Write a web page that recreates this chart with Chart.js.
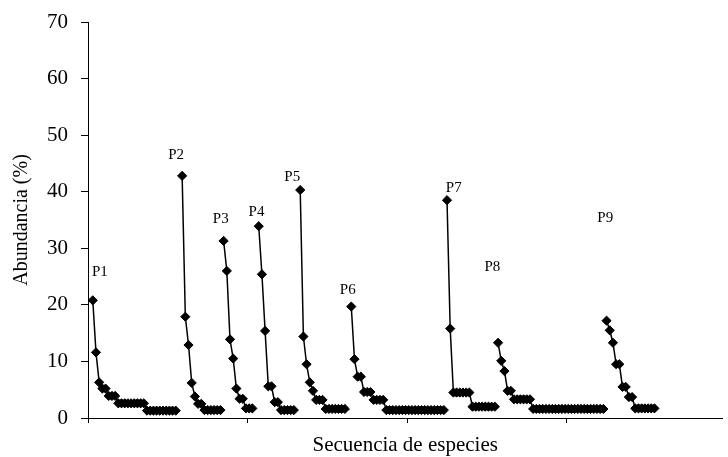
<!DOCTYPE html>
<html>
<head>
<meta charset="utf-8">
<script src="https://cdn.jsdelivr.net/npm/chart.js@4/dist/chart.umd.min.js"></script>
<style>
  html, body { margin: 0; padding: 0; background: #fff; overflow: hidden; }
  #wrap { width: 728px; height: 457px; }
</style>
</head>
<body>
<div id="wrap"><canvas id="chart" width="728" height="457"></canvas></div>
<script>
// plot names and the position in the species sequence where each plot starts
var plotNames = ['P1', 'P2', 'P3', 'P4', 'P5', 'P6', 'P7', 'P8', 'P9'];
var plotStart = [1, 29, 42, 53, 66, 82, 112, 128, 162];

// abundance (%) of each species, ranked, per plot
var p1 = [20.8, 11.6, 6.3, 5.2, 5.2, 3.9, 3.9, 3.9, 2.6, 2.6, 2.6, 2.6, 2.6, 2.6, 2.6, 2.6, 2.6, 1.3, 1.3, 1.3, 1.3, 1.3, 1.3, 1.3, 1.3, 1.3, 1.3];
var p2 = [42.8, 17.9, 12.9, 6.2, 3.8, 2.5, 2.5, 1.4, 1.4, 1.4, 1.4, 1.4, 1.4];
var p3 = [31.3, 26.0, 13.9, 10.5, 5.2, 3.4, 3.4, 1.7, 1.7, 1.7];
var p4 = [33.9, 25.4, 15.4, 5.6, 5.6, 2.8, 2.8, 1.4, 1.4, 1.4, 1.4, 1.4];
var p5 = [40.3, 14.4, 9.5, 6.3, 4.8, 3.2, 3.2, 3.2, 1.6, 1.6, 1.6, 1.6, 1.6, 1.6, 1.6];
var p6 = [19.7, 10.4, 7.3, 7.3, 4.6, 4.6, 4.6, 3.2, 3.2, 3.2, 3.2, 1.4, 1.4, 1.4, 1.4, 1.4, 1.4, 1.4, 1.4, 1.4, 1.4, 1.4, 1.4, 1.4, 1.4, 1.4, 1.4, 1.4, 1.4, 1.4];
var p7 = [38.5, 15.8, 4.5, 4.5, 4.5, 4.5, 4.5, 4.5, 2.0, 2.0, 2.0, 2.0, 2.0, 2.0, 2.0, 2.0];
var p8 = [13.3, 10.1, 8.3, 4.8, 4.8, 3.3, 3.3, 3.3, 3.3, 3.3, 3.3, 1.6, 1.6, 1.6, 1.6, 1.6, 1.6, 1.6, 1.6, 1.6, 1.6, 1.6, 1.6, 1.6, 1.6, 1.6, 1.6, 1.6, 1.6, 1.6, 1.6, 1.6, 1.6, 1.6];
var p9 = [17.2, 15.5, 13.3, 9.5, 9.5, 5.5, 5.5, 3.7, 3.7, 1.7, 1.7, 1.7, 1.7, 1.7, 1.7, 1.7];
var plots = [p1, p2, p3, p4, p5, p6, p7, p8, p9];

// where the plot names are written (sequence position, abundance)
var labelSeq = [3.7, 27.6, 41.6, 52.8, 64.0, 81.4, 114.6, 126.7, 162.1];
var labelVal = [25.8, 46.5, 35.2, 36.4, 42.6, 22.6, 40.6, 26.7, 35.4];

var yTicks = [0, 10, 20, 30, 40, 50, 60, 70];
var xTicks = [0, 50, 100, 150];

var serif = "'Liberation Serif', 'Times New Roman', serif";

var datasets = [];
var $each = function(arr, fn) { for (var i = 0; i < arr.length; i++) fn(i, arr[i]); };
$each(plots, function(i, vals) {
  var pts = [];
  $each(vals, function(j, v) {
    pts.push({ x: plotStart[i] + j + 0.5, y: v });
  });
  datasets.push({
    label: plotNames[i],
    data: pts,
    borderColor: '#000',
    backgroundColor: '#000',
    borderWidth: 1.5,
    pointStyle: 'rectRot',
    pointRadius: 4.6,
    pointBorderWidth: 1,
    pointBackgroundColor: '#000',
    pointBorderColor: '#000',
    tension: 0
  });
});

var plotLabels = {
  id: 'plotLabels',
  afterDatasetsDraw: function(chart) {
    var ctx = chart.ctx;
    var xs = chart.scales.x, ys = chart.scales.y;
    ctx.save();
    ctx.fillStyle = '#000';
    ctx.font = '15px ' + serif;
    ctx.textAlign = 'center';
    ctx.textBaseline = 'middle';
    $each(plotNames, function(i, name) {
      ctx.fillText(name, xs.getPixelForValue(labelSeq[i]), ys.getPixelForValue(labelVal[i]));
    });
    ctx.restore();
  }
};

new Chart(document.getElementById('chart'), {
  type: 'line',
  data: { datasets: datasets },
  plugins: [plotLabels],
  options: {
    responsive: false,
    animation: false,
    layout: { padding: { top: 22, right: 0, left: 0, bottom: 0 } },
    plugins: { legend: { display: false }, tooltip: { enabled: false } },
    scales: {
      x: {
        type: 'linear',
        min: 0,
        max: 198.8,
        afterBuildTicks: function(scale) {
          scale.ticks = xTicks.map(function(v) { return { value: v }; });
        },
        afterFit: function(scale) { scale.height = 39; },
        ticks: { callback: function() { return ''; }, padding: 0 },
        grid: { drawOnChartArea: false, drawTicks: true, tickLength: 5, color: '#000', lineWidth: 1 },
        border: { color: '#000', width: 1 },
        title: {
          display: true,
          text: 'Secuencia de especies',
          color: '#000',
          font: { family: serif, size: 21, lineHeight: 1.1 },
          padding: { top: 0, bottom: 0 }
        }
      },
      y: {
        min: 0,
        max: 70,
        afterBuildTicks: function(scale) {
          scale.ticks = yTicks.map(function(v) { return { value: v }; });
        },
        afterFit: function(scale) { scale.width = 88; },
        ticks: { color: '#000', font: { family: serif, size: 21, lineHeight: 0.8 }, padding: 13 },
        grid: { drawOnChartArea: false, drawTicks: true, tickLength: 7, color: '#000', lineWidth: 1 },
        border: { color: '#000', width: 1 },
        title: {
          display: true,
          text: 'Abundancia (%)',
          color: '#000',
          font: { family: serif, size: 20, lineHeight: 1.2 },
          padding: { top: 10, bottom: 0 }
        }
      }
    }
  }
});
</script>
</body>
</html>
